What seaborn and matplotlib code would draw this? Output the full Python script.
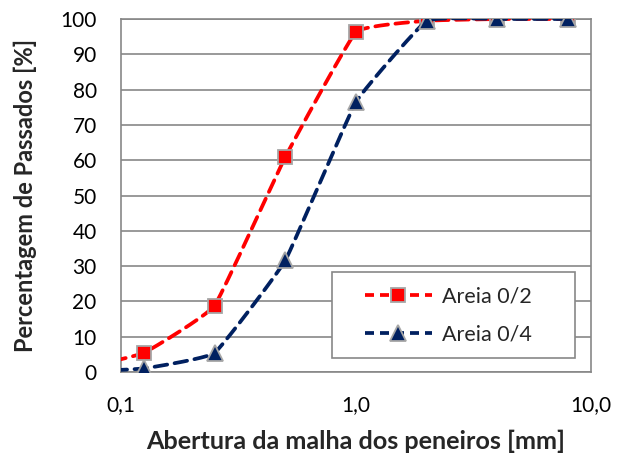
import numpy as np
import pandas as pd
import matplotlib
matplotlib.use("Agg")
import matplotlib.pyplot as plt
import matplotlib.ticker as mticker
from matplotlib.lines import Line2D
from matplotlib.patches import Rectangle
import seaborn as sns

# ---- data ----
sieve_mm = [0.063, 0.125, 0.25, 0.5, 1.0, 2.0, 4.0, 8.0]
areia_02 = [0.5, 5.4, 18.8, 60.9, 96.3, 99.5, 100.0, 100.0]
areia_04 = [0.0, 1.0, 5.4, 31.6, 76.5, 99.5, 100.0, 100.0]
series_names = ["Areia 0/2", "Areia 0/4"]
x_tick_values = [0.1, 1.0, 10.0]
x_tick_labels = ["0,1", "1,0", "10,0"]
y_ticks = list(range(0, 101, 10))
x_title = "Abertura da malha dos peneiros [mm]"
y_title = "Percentagem de Passados [%]"

sns.set_style("white")
plt.rcParams["font.family"] = ["Lato", "DejaVu Sans"]

RED = "#FF0000"
NAVY = "#002060"
GRID = "#878787"
EDGE = "#A6A6A6"
FS = 15
TFS = 18.2


def smooth(xs, ys, k=0.05, n=40):
    """Lightly smoothed line (Bezier through the points) in (log10 x, y) space."""
    px = np.log10(np.asarray(xs, float))
    py = np.asarray(ys, float)
    m = len(px)
    outx, outy = [], []
    for i in range(m - 1):
        p0 = i - 1 if i > 0 else i
        p3 = i + 2 if i + 2 < m else i + 1
        c1x = px[i] + (px[i + 1] - px[p0]) * k
        c1y = py[i] + (py[i + 1] - py[p0]) * k
        c2x = px[i + 1] - (px[p3] - px[i]) * k
        c2y = py[i + 1] - (py[p3] - py[i]) * k
        t = np.linspace(0, 1, n)
        bx = ((1 - t) ** 3 * px[i] + 3 * (1 - t) ** 2 * t * c1x
              + 3 * (1 - t) * t ** 2 * c2x + t ** 3 * px[i + 1])
        by = ((1 - t) ** 3 * py[i] + 3 * (1 - t) ** 2 * t * c1y
              + 3 * (1 - t) * t ** 2 * c2y + t ** 3 * py[i + 1])
        outx.append(bx)
        outy.append(by)
    return 10 ** np.concatenate(outx), np.concatenate(outy)


fig = plt.figure(figsize=(6.19, 4.62), dpi=100)
ax = fig.add_axes([121 / 619, 1 - 372 / 462, 470 / 619, 353 / 462])

df = pd.DataFrame({
    "sieve": sieve_mm * 2,
    "pass": areia_02 + areia_04,
    "serie": [series_names[0]] * len(sieve_mm) + [series_names[1]] * len(sieve_mm),
})

styles = {
    series_names[0]: dict(color=RED, marker="s", ms=10),
    series_names[1]: dict(color=NAVY, marker="^", ms=11.5),
}
handles = []
for k, name in enumerate(series_names):
    sub = df[df["serie"] == name]
    st = styles[name]
    sx, sy = smooth(sub["sieve"].values, sub["pass"].values)
    ax.plot(sx, sy, color=st["color"], lw=2.7, ls=(0, (3.4, 2.0)),
            dash_capstyle="round", zorder=3 + k * 2)
    sns.lineplot(data=sub, x="sieve", y="pass", ax=ax, linestyle="",
                 marker=st["marker"], markersize=st["ms"], color=st["color"],
                 markeredgecolor=EDGE, markeredgewidth=1.3, zorder=4 + k * 2,
                 legend=False, estimator=None, errorbar=None)
    handles.append(Line2D([0], [0], color=st["color"], lw=2.7,
                          ls=(0, (2.4, 1.6)), marker=st["marker"],
                          markersize=st["ms"] - 0.5, markeredgecolor=EDGE,
                          markeredgewidth=1.3))

ax.set_xscale("log")
ax.set_xlim(0.1, 10)
ax.set_ylim(0, 100)
ax.xaxis.set_major_locator(mticker.FixedLocator(x_tick_values))
ax.xaxis.set_major_formatter(mticker.FixedFormatter(x_tick_labels))
ax.xaxis.set_minor_locator(mticker.LogLocator(base=10, subs=np.arange(2, 10)))
ax.xaxis.set_minor_formatter(mticker.NullFormatter())
ax.yaxis.set_major_locator(mticker.FixedLocator(y_ticks))
ax.yaxis.set_minor_locator(mticker.MultipleLocator(5))

ax.grid(axis="y", which="major", color=GRID, lw=1.2)
ax.grid(axis="x", visible=False)
ax.set_axisbelow(True)
for s in ax.spines.values():
    s.set_visible(True)
    s.set_color(GRID)
    s.set_linewidth(1.2)

ax.tick_params(axis="both", which="major", direction="out", length=5.5,
               width=1.2, color=GRID, labelsize=FS, labelcolor="black")
ax.tick_params(axis="both", which="minor", direction="out", length=3.5,
               width=1.2, color=GRID)
ax.tick_params(axis="y", which="major", pad=12)
ax.tick_params(axis="x", which="major", pad=11)
ax.tick_params(axis="x", which="minor", length=4.5)

ax.set_xlabel(x_title, fontsize=TFS, fontweight="bold")
ax.set_ylabel(y_title, fontsize=17, fontweight="bold")
ax.xaxis.set_label_coords(0.5, (372 - 441) / 353)
ax.xaxis.label.set_va("center")
ax.yaxis.set_label_coords((25 - 121) / 470, 0.5)
ax.yaxis.label.set_va("center")

# legend box
ax.add_patch(Rectangle((0.449, 0.04), 0.517, 0.243, transform=ax.transAxes,
                       facecolor="white", edgecolor=GRID, lw=1.2, zorder=8))
leg = ax.legend(handles, series_names, loc="center left",
                bbox_to_anchor=(0.519, 0.160), borderaxespad=0, borderpad=0,
                frameon=False, fontsize=FS + 0.5, handlelength=3.1,
                handletextpad=0.5, labelspacing=0.85)
leg.set_zorder(9)

fig.savefig("out.png", dpi=100, facecolor="white")
